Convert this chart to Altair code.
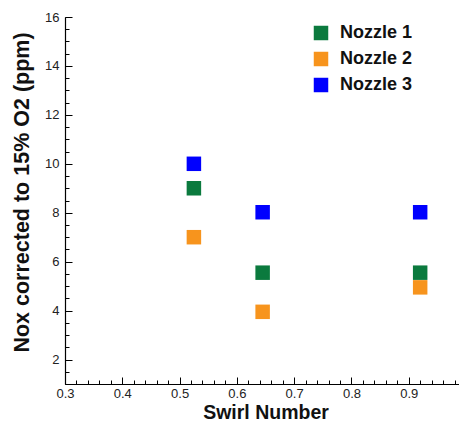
import altair as alt
import pandas as pd

swirl = [0.525, 0.645, 0.92]
nozzle1 = [9.0, 5.55, 5.55]
nozzle2 = [7.0, 3.95, 4.95]
nozzle3 = [10.0, 8.02, 8.02]
series_names = ["Nozzle 1", "Nozzle 2", "Nozzle 3"]
series_colors = ["#0b7a3e", "#f7941d", "#0000ff"]

x_major = [0.3, 0.4, 0.5, 0.6, 0.7, 0.8, 0.9, 1.0]
y_major = [2, 4, 6, 8, 10, 12, 14, 16]
x_minor = [round(0.3 + 0.02 * i, 2) for i in range(36)]
y_minor = [1 + 0.5 * i for i in range(31)]

rows = []
for name, vals in zip(series_names, [nozzle1, nozzle2, nozzle3]):
    for s, v in zip(swirl, vals):
        rows.append({"swirl": s, "nox": v, "series": name})
df = pd.DataFrame(rows)

FONT = "Liberation Sans"
W_VIEW, W_FULL, H = 393, 401, 367
xs = alt.Scale(domain=[0.3, 1.0], range=[0, W_FULL], nice=False, zero=False)
ys = alt.Scale(domain=[1, 16], nice=False, zero=False)

main = alt.Chart(df).mark_square(size=210, opacity=1).encode(
    x=alt.X("swirl:Q", scale=xs, axis=alt.Axis(
        orient="bottom",
        values=x_major, format=".1f", labelExpr="datum.value == 1 ? '1' : datum.label",
        title="Swirl Number", ticks=False, tickSize=0,
        grid=True, gridDash=[7, H - 7], gridDashOffset=7,
        gridColor="#000", gridWidth=1, gridOpacity=1,
        domain=True, domainColor="#000", domainWidth=1.2,
        labelFont=FONT, labelFontSize=13, labelColor="#222", labelPadding=3,
        labelFlush=False, labelOverlap=False,
        titleFont=FONT, titleFontSize=19.5, titleFontWeight="bold", titleColor="#111",
        titleBaseline="alphabetic", titleX=W_FULL / 2, titleY=34)),
    y=alt.Y("nox:Q", scale=ys, axis=alt.Axis(
        orient="left",
        values=y_major, title="Nox corrected to 15% O2 (ppm)", ticks=False, tickSize=0,
        grid=True, gridDash=[7, 2000], gridColor="#000", gridWidth=1, gridOpacity=1,
        domain=True, domainColor="#000", domainWidth=1.2,
        labelFont=FONT, labelFontSize=13, labelColor="#222", labelPadding=6,
        labelFlush=False, labelOverlap=False,
        titleFont=FONT, titleFontSize=21.5, titleFontWeight="bold", titleColor="#111",
        titlePadding=11, titleY=175)),
    color=alt.Color("series:N", scale=alt.Scale(domain=series_names, range=series_colors),
                    legend=alt.Legend(title=None, orient="none", legendX=247, legendY=7,
                                      symbolType="square", symbolSize=210, symbolOpacity=1,
                                      labelFont=FONT, labelFontSize=18, labelFontWeight="bold",
                                      labelColor="#111", rowPadding=8, labelOffset=10,
                                      padding=0)),
)

minor = alt.Chart(df).mark_square(opacity=0).encode(
    x=alt.X("swirl:Q", scale=xs, axis=alt.Axis(
        orient="bottom", values=x_minor, labels=False, ticks=False, tickSize=0, domain=False,
        title="", grid=True, gridDash=[4, H - 4], gridDashOffset=4,
        gridColor="#000", gridWidth=1, gridOpacity=1)),
    y=alt.Y("nox:Q", scale=ys, axis=alt.Axis(
        orient="left", values=y_minor, labels=False, ticks=False, tickSize=0, domain=False,
        title="", grid=True, gridDash=[4, 2000], gridColor="#000", gridWidth=1, gridOpacity=1)),
)

chart = alt.layer(main, minor).resolve_axis(x="independent", y="independent").properties(
    width=W_VIEW, height=H,
    autosize=alt.AutoSizeParams(type="none"),
    padding={"left": 57, "top": 9, "right": 1, "bottom": 38},
).configure_view(strokeWidth=0)

chart.save("out.html", embed_options={"renderer": "svg", "actions": False})
